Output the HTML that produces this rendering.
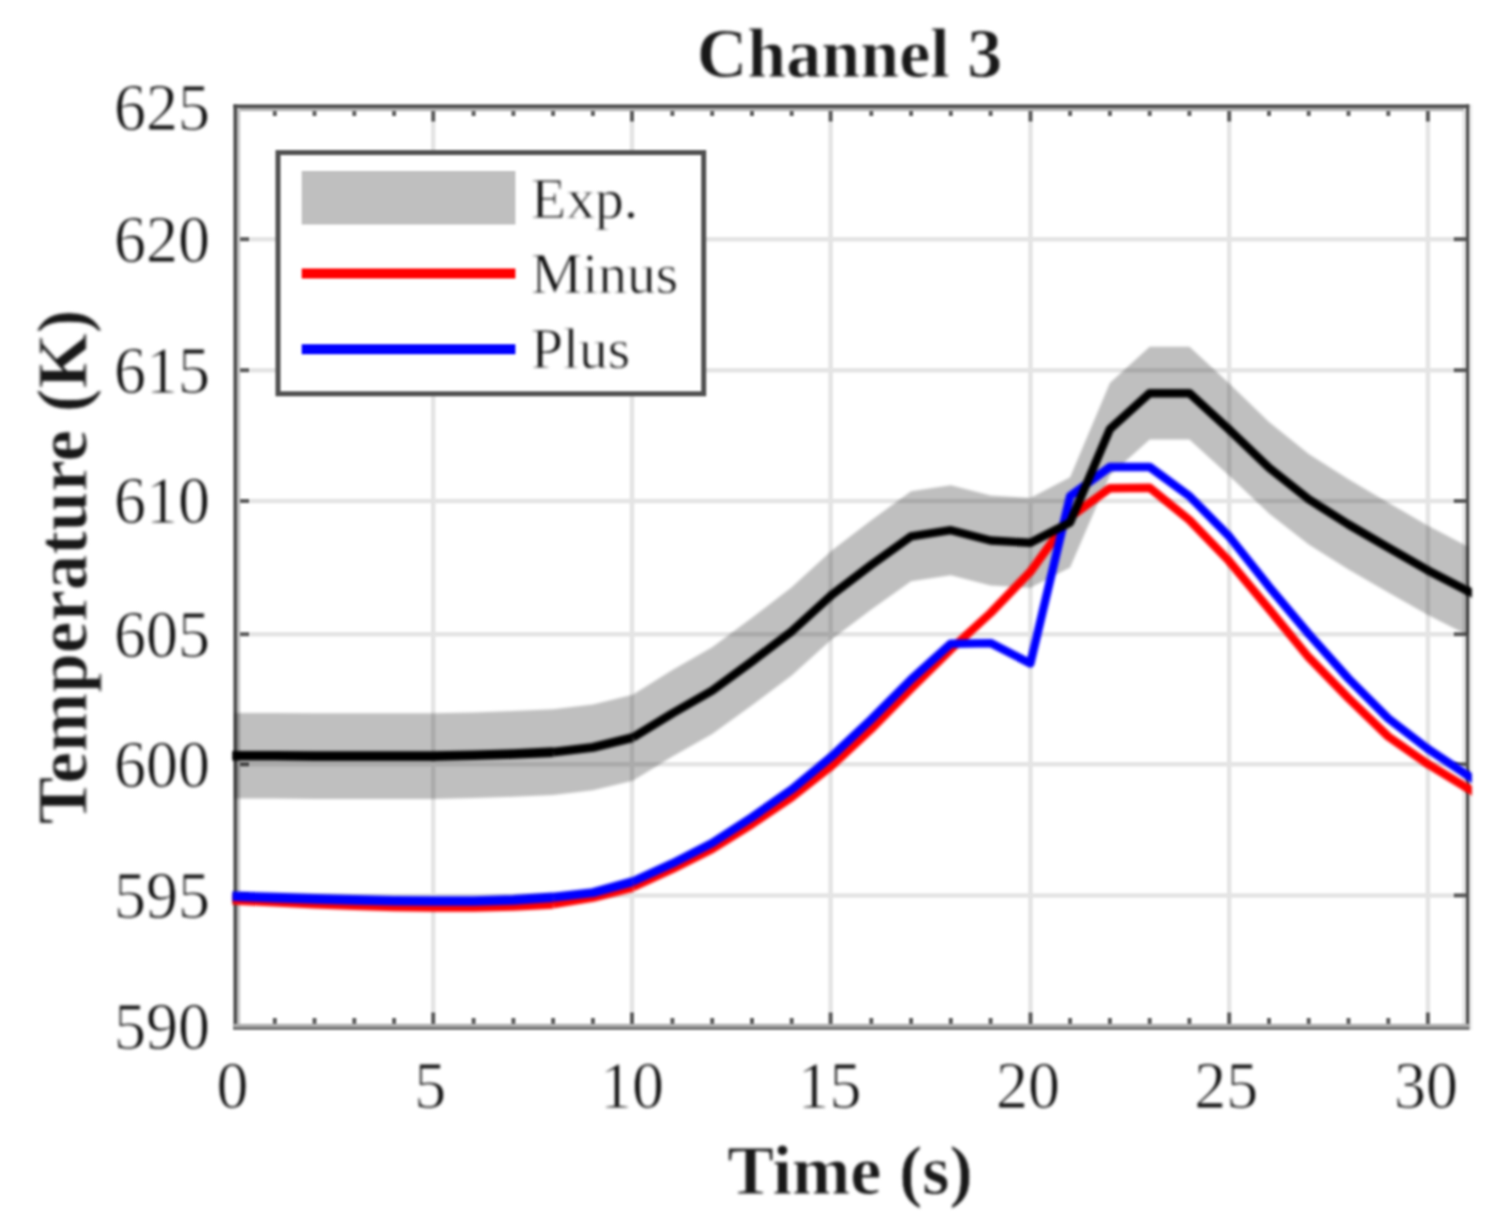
<!DOCTYPE html>
<html><head><meta charset="utf-8"><title>Channel 3</title>
<style>
html,body{margin:0;padding:0;background:#fff;}
body{width:1500px;height:1223px;overflow:hidden;}
svg{display:block;}
text{font-family:"Liberation Serif",serif;fill:#0c0c0c;stroke:#fff;stroke-width:0.9px;}
.b{font-weight:bold;fill:#181818;stroke-width:0.8px;}
.f1{filter:blur(1.0px);}
.f2{filter:blur(1.5px);}
.f3{filter:blur(1.5px);}
</style></head><body>
<svg width="1500" height="1223" viewBox="0 0 1500 1223">
<rect width="1500" height="1223" fill="#fff"/>
<g class="f1">
<g stroke="#e4e4e4" stroke-width="4.5" fill="none">
<line x1="433.2" y1="107.5" x2="433.2" y2="1026.5"/>
<line x1="632.0" y1="107.5" x2="632.0" y2="1026.5"/>
<line x1="830.6" y1="107.5" x2="830.6" y2="1026.5"/>
<line x1="1030.5" y1="107.5" x2="1030.5" y2="1026.5"/>
<line x1="1229.2" y1="107.5" x2="1229.2" y2="1026.5"/>
<line x1="1427.9" y1="107.5" x2="1427.9" y2="1026.5"/>
<line x1="235.0" y1="895.4" x2="1467.8" y2="895.4"/>
<line x1="235.0" y1="764.3" x2="1467.8" y2="764.3"/>
<line x1="235.0" y1="634.2" x2="1467.8" y2="634.2"/>
<line x1="235.0" y1="501.0" x2="1467.8" y2="501.0"/>
<line x1="235.0" y1="370.2" x2="1467.8" y2="370.2"/>
<line x1="235.0" y1="239.2" x2="1467.8" y2="239.2"/>
</g>
<rect x="1462.6" y="108" width="3.4" height="916" fill="#e2e2e2"/><rect x="1469.2" y="104.4" width="3" height="925.6" fill="#ececec"/>
<g stroke="#5c5c5c" stroke-width="4" fill="none">
<line x1="274.8" y1="1026.5" x2="274.8" y2="1018.0"/><line x1="274.8" y1="107.5" x2="274.8" y2="116.0"/>
<line x1="314.5" y1="1026.5" x2="314.5" y2="1018.0"/><line x1="314.5" y1="107.5" x2="314.5" y2="116.0"/>
<line x1="354.3" y1="1026.5" x2="354.3" y2="1018.0"/><line x1="354.3" y1="107.5" x2="354.3" y2="116.0"/>
<line x1="394.1" y1="1026.5" x2="394.1" y2="1018.0"/><line x1="394.1" y1="107.5" x2="394.1" y2="116.0"/>
<line x1="433.2" y1="1026.5" x2="433.2" y2="1012.5"/><line x1="433.2" y1="107.5" x2="433.2" y2="121.5"/>
<line x1="473.6" y1="1026.5" x2="473.6" y2="1018.0"/><line x1="473.6" y1="107.5" x2="473.6" y2="116.0"/>
<line x1="513.4" y1="1026.5" x2="513.4" y2="1018.0"/><line x1="513.4" y1="107.5" x2="513.4" y2="116.0"/>
<line x1="553.1" y1="1026.5" x2="553.1" y2="1018.0"/><line x1="553.1" y1="107.5" x2="553.1" y2="116.0"/>
<line x1="592.9" y1="1026.5" x2="592.9" y2="1018.0"/><line x1="592.9" y1="107.5" x2="592.9" y2="116.0"/>
<line x1="632.0" y1="1026.5" x2="632.0" y2="1012.5"/><line x1="632.0" y1="107.5" x2="632.0" y2="121.5"/>
<line x1="672.4" y1="1026.5" x2="672.4" y2="1018.0"/><line x1="672.4" y1="107.5" x2="672.4" y2="116.0"/>
<line x1="712.2" y1="1026.5" x2="712.2" y2="1018.0"/><line x1="712.2" y1="107.5" x2="712.2" y2="116.0"/>
<line x1="752.0" y1="1026.5" x2="752.0" y2="1018.0"/><line x1="752.0" y1="107.5" x2="752.0" y2="116.0"/>
<line x1="791.7" y1="1026.5" x2="791.7" y2="1018.0"/><line x1="791.7" y1="107.5" x2="791.7" y2="116.0"/>
<line x1="830.6" y1="1026.5" x2="830.6" y2="1012.5"/><line x1="830.6" y1="107.5" x2="830.6" y2="121.5"/>
<line x1="871.3" y1="1026.5" x2="871.3" y2="1018.0"/><line x1="871.3" y1="107.5" x2="871.3" y2="116.0"/>
<line x1="911.1" y1="1026.5" x2="911.1" y2="1018.0"/><line x1="911.1" y1="107.5" x2="911.1" y2="116.0"/>
<line x1="950.8" y1="1026.5" x2="950.8" y2="1018.0"/><line x1="950.8" y1="107.5" x2="950.8" y2="116.0"/>
<line x1="990.6" y1="1026.5" x2="990.6" y2="1018.0"/><line x1="990.6" y1="107.5" x2="990.6" y2="116.0"/>
<line x1="1030.5" y1="1026.5" x2="1030.5" y2="1012.5"/><line x1="1030.5" y1="107.5" x2="1030.5" y2="121.5"/>
<line x1="1070.1" y1="1026.5" x2="1070.1" y2="1018.0"/><line x1="1070.1" y1="107.5" x2="1070.1" y2="116.0"/>
<line x1="1109.9" y1="1026.5" x2="1109.9" y2="1018.0"/><line x1="1109.9" y1="107.5" x2="1109.9" y2="116.0"/>
<line x1="1149.7" y1="1026.5" x2="1149.7" y2="1018.0"/><line x1="1149.7" y1="107.5" x2="1149.7" y2="116.0"/>
<line x1="1189.4" y1="1026.5" x2="1189.4" y2="1018.0"/><line x1="1189.4" y1="107.5" x2="1189.4" y2="116.0"/>
<line x1="1229.2" y1="1026.5" x2="1229.2" y2="1012.5"/><line x1="1229.2" y1="107.5" x2="1229.2" y2="121.5"/>
<line x1="1269.0" y1="1026.5" x2="1269.0" y2="1018.0"/><line x1="1269.0" y1="107.5" x2="1269.0" y2="116.0"/>
<line x1="1308.7" y1="1026.5" x2="1308.7" y2="1018.0"/><line x1="1308.7" y1="107.5" x2="1308.7" y2="116.0"/>
<line x1="1348.5" y1="1026.5" x2="1348.5" y2="1018.0"/><line x1="1348.5" y1="107.5" x2="1348.5" y2="116.0"/>
<line x1="1388.3" y1="1026.5" x2="1388.3" y2="1018.0"/><line x1="1388.3" y1="107.5" x2="1388.3" y2="116.0"/>
<line x1="1427.9" y1="1026.5" x2="1427.9" y2="1012.5"/><line x1="1427.9" y1="107.5" x2="1427.9" y2="121.5"/>
<line x1="235.0" y1="895.4" x2="249.0" y2="895.4"/><line x1="1467.8" y1="895.4" x2="1453.8" y2="895.4"/>
<line x1="235.0" y1="764.3" x2="249.0" y2="764.3"/><line x1="1467.8" y1="764.3" x2="1453.8" y2="764.3"/>
<line x1="235.0" y1="634.2" x2="249.0" y2="634.2"/><line x1="1467.8" y1="634.2" x2="1453.8" y2="634.2"/>
<line x1="235.0" y1="501.0" x2="249.0" y2="501.0"/><line x1="1467.8" y1="501.0" x2="1453.8" y2="501.0"/>
<line x1="235.0" y1="370.2" x2="249.0" y2="370.2"/><line x1="1467.8" y1="370.2" x2="1453.8" y2="370.2"/>
<line x1="235.0" y1="239.2" x2="249.0" y2="239.2"/><line x1="1467.8" y1="239.2" x2="1453.8" y2="239.2"/>
</g>
<rect x="237" y="108" width="1227" height="3.2" fill="#b4b4b4"/>
<rect x="233.4" y="104.4" width="1235.8" height="3.7" fill="#505050"/>
<rect x="237" y="108" width="3.2" height="916" fill="#c4c4c4"/>
<rect x="233.4" y="104.4" width="3.7" height="925.6" fill="#505050"/>
<rect x="1466" y="104.4" width="3.3" height="925.6" fill="#505050"/>
<rect x="233.4" y="1023.8" width="1235.8" height="3.2" fill="#b0b0b0"/><rect x="233.4" y="1026.9" width="1235.8" height="3.1" fill="#787878"/>
</g>
<g class="f2">
<clipPath id="cp"><rect x="232.5" y="107.5" width="1239.3" height="919.0"/></clipPath>
<g clip-path="url(#cp)" fill="none" stroke-linejoin="round">
<polygon points="235.0,713.0 274.8,713.0 314.5,713.3 354.3,713.3 394.1,713.3 433.8,713.3 473.6,712.5 513.4,711.1 553.1,709.3 592.9,704.5 632.7,694.7 672.4,670.0 712.2,647.2 752.0,617.8 791.7,587.3 831.5,550.7 871.3,520.2 911.1,491.3 950.8,485.2 990.6,495.5 1030.4,497.9 1070.1,477.2 1109.9,383.1 1149.7,346.7 1189.4,346.7 1229.2,383.6 1269.0,422.1 1308.7,453.9 1348.5,479.3 1388.3,502.7 1428.0,525.8 1467.8,546.4 1467.8,635.3 1428.0,615.1 1388.3,592.5 1348.5,569.6 1308.7,544.6 1269.0,513.4 1229.2,475.7 1189.4,439.6 1149.7,439.6 1109.9,475.2 1070.1,567.5 1030.4,587.8 990.6,585.4 950.8,575.3 911.1,581.3 871.3,609.6 831.5,639.5 791.7,675.4 752.0,705.3 712.2,734.1 672.4,756.5 632.7,780.7 592.9,790.3 553.1,795.0 513.4,796.8 473.6,798.1 433.8,798.9 394.1,798.9 354.3,798.9 314.5,798.9 274.8,798.6 235.0,798.6" fill="#000" fill-opacity="0.25"/>
<polyline points="219.1,899.2 235.0,899.9 274.8,901.8 314.5,903.6 354.3,905.2 394.1,906.5 433.8,907.0 473.6,907.0 513.4,906.0 553.1,903.9" stroke="#ff0000" stroke-width="9.6"/>
<polyline points="553.1,903.9 592.9,897.3 632.7,887.3" stroke="#ff0000" stroke-width="9.0"/>
<polyline points="632.7,887.3 672.4,869.0 712.2,849.0 752.0,824.1 791.7,797.3 831.5,766.0 871.3,729.0 911.1,688.6 950.8,649.4 990.6,613.0 1030.4,571.7 1070.1,517.1 1109.9,488.2 1149.7,487.7 1189.4,520.0 1229.2,561.2 1269.0,609.0 1308.7,657.3 1348.5,698.3 1388.3,736.6 1428.0,764.2 1467.8,788.3 1483.7,798.0" stroke="#ff0000" stroke-width="8.4"/>
<polyline points="219.1,895.7 235.0,896.3 274.8,897.6 314.5,898.9 354.3,899.9 394.1,900.7 433.8,901.0 473.6,901.0 513.4,899.9 553.1,897.3" stroke="#0000ff" stroke-width="9.6"/>
<polyline points="553.1,897.3 592.9,892.6 632.7,881.6" stroke="#0000ff" stroke-width="9.0"/>
<polyline points="632.7,881.6 672.4,863.4 712.2,843.0 752.0,817.2 791.7,789.4 831.5,756.6 871.3,719.3 911.1,679.4 950.8,643.7 990.6,643.1 1030.4,663.4 1070.1,496.1 1109.9,467.0 1149.7,467.0 1189.4,496.1 1229.2,536.5 1269.0,586.7 1308.7,634.0 1348.5,678.6 1388.3,718.5 1428.0,749.0 1467.8,775.5 1483.7,786.1" stroke="#0000ff" stroke-width="8.4"/>
<polyline points="219.1,755.8 235.0,755.8 274.8,755.8 314.5,756.1 354.3,756.1 394.1,756.1 433.8,756.1 473.6,755.3 513.4,754.0 553.1,752.1" stroke="#000000" stroke-width="9.6"/>
<polyline points="553.1,752.1 592.9,747.4 632.7,737.7" stroke="#000000" stroke-width="9.0"/>
<polyline points="632.7,737.7 672.4,713.3 712.2,690.7 752.0,661.5 791.7,631.3 831.5,595.1 871.3,564.9 911.1,536.3 950.8,530.2 990.6,540.5 1030.4,542.8 1070.1,522.4 1109.9,429.1 1149.7,393.2 1189.4,393.2 1229.2,429.7 1269.0,467.7 1308.7,499.3 1348.5,524.5 1388.3,547.6 1428.0,570.4 1467.8,590.9 1483.7,599.1" stroke="#000000" stroke-width="8.4"/>
</g>
</g>
<g class="f3">
<g font-size="64" text-anchor="middle">
<text transform="translate(232.5,1108.2) scale(1,1.06)">0</text>
<text transform="translate(430.2,1108.2) scale(1,1.06)">5</text>
<text transform="translate(632.0,1108.2) scale(1,1.06)">10</text>
<text transform="translate(829.6,1108.2) scale(1,1.06)">15</text>
<text transform="translate(1028.0,1108.2) scale(1,1.06)">20</text>
<text transform="translate(1226.2,1108.2) scale(1,1.06)">25</text>
<text transform="translate(1425.9,1108.2) scale(1,1.06)">30</text>
</g>
<g font-size="64" text-anchor="end">
<text transform="translate(210,1048.9) scale(1,1.06)">590</text>
<text transform="translate(210,917.8) scale(1,1.06)">595</text>
<text transform="translate(210,786.7) scale(1,1.06)">600</text>
<text transform="translate(210,656.6) scale(1,1.06)">605</text>
<text transform="translate(210,523.4) scale(1,1.06)">610</text>
<text transform="translate(210,392.6) scale(1,1.06)">615</text>
<text transform="translate(210,261.6) scale(1,1.06)">620</text>
<text transform="translate(210,129.9) scale(1,1.06)">625</text>
</g>
<text class="b" x="849.5" y="77" font-size="70" text-anchor="middle">Channel 3</text>
<text class="b" x="850" y="1194" font-size="70" text-anchor="middle">Time (s)</text>
<text class="b" transform="translate(86.5,567) rotate(-90)" font-size="71" text-anchor="middle">Temperature (K)</text>
</g>
<g class="f1">
<rect x="278" y="152.6" width="425.7" height="241.2" fill="#fff" stroke="#505050" stroke-width="5"/>
<rect x="301.7" y="171" width="213.7" height="53.5" fill="#bfbfbf"/>
<line x1="301.7" y1="273.5" x2="515.4" y2="273.5" stroke="#ff0000" stroke-width="10"/>
<line x1="301.7" y1="349.3" x2="515.4" y2="349.3" stroke="#0000ff" stroke-width="10"/>
</g>
<g class="f3" font-size="57.6">
<text x="531" y="217.7">Exp.</text>
<text x="531" y="293">Minus</text>
<text x="531" y="368.2">Plus</text>
</g>
</svg>
</body></html>
